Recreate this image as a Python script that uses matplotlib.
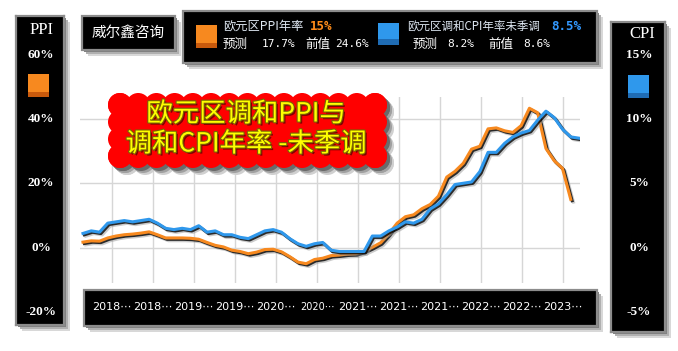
import matplotlib
matplotlib.use('Agg')
import matplotlib.pyplot as plt
import matplotlib.patheffects as pe
from matplotlib.patches import Rectangle, Circle
import numpy as np

plt.rcParams['font.family'] = ['Noto Sans CJK SC', 'DejaVu Sans']

# monthly, 2018-02 .. 2023-01 (PPI) and 2018-02 .. 2023-02 (CPI)
ppi = [1.7, 2.1, 2.0, 3.0, 3.6, 4.0, 4.2, 4.5, 4.9, 4.0, 3.0,
       3.0, 3.0, 2.9, 2.6, 1.6, 0.7, 0.2, -0.8, -1.2, -1.9, -1.4, -0.6,
       -0.5, -1.3, -2.8, -4.5, -5.0, -3.7, -3.3, -2.5, -2.3, -2.0, -1.9, -1.1,
       0.1, 1.5, 4.3, 7.6, 9.6, 10.2, 12.1, 13.4, 16.0, 21.9, 23.7, 26.2,
       30.6, 31.5, 36.9, 37.2, 36.3, 35.8, 37.9, 43.3, 41.9, 30.8, 27.0, 24.6,
       15.0]
cpi = [1.1, 1.3, 1.2, 1.9, 2.0, 2.1, 2.0, 2.1, 2.2, 1.9, 1.5,
       1.4, 1.5, 1.4, 1.7, 1.2, 1.3, 1.0, 1.0, 0.8, 0.7, 1.0, 1.3,
       1.4, 1.2, 0.7, 0.3, 0.1, 0.3, 0.4, -0.2, -0.3, -0.3, -0.3, -0.3,
       0.9, 0.9, 1.3, 1.6, 2.0, 1.9, 2.2, 3.0, 3.4, 4.1, 4.9, 5.0,
       5.1, 5.9, 7.4, 7.4, 8.1, 8.6, 8.9, 9.1, 9.9, 10.6, 10.1, 9.2,
       8.6, 8.5]
x_labels = ['2018⋯', '2018⋯', '2019⋯', '2019⋯', '2020⋯', '2020⋯',
            '2021⋯', '2021⋯', '2021⋯', '2022⋯', '2022⋯', '2023⋯']
ppi_ticks = [60, 40, 20, 0, -20]
cpi_ticks = [15, 10, 5, 0, -5]
title_lines = ['欧元区调和PPI与', '调和CPI年率 -未季调']
ppi_name, ppi_now, ppi_fc, ppi_prev = '欧元区PPI年率', '15%', '17.7%', '24.6%'
cpi_name, cpi_now, cpi_fc, cpi_prev = '欧元区调和CPI年率未季调', '8.5%', '8.2%', '8.6%'

ORANGE, ORANGE_D = '#f7891f', '#c95a0c'
BLUE, BLUE_D = '#2f98ec', '#1f6cb4'

W, H = 678, 351
fig = plt.figure(figsize=(W / 100, H / 100), dpi=100)
fig.patch.set_facecolor('white')


def px_axes(left, top, w, h, **kw):
    return fig.add_axes([left / W, 1 - (top + h) / H, w / W, h / H], **kw)


def black_box(a, x0, y0, x1, y1):
    # soft drop shadow then black panel with grey bevel edge
    for off, c in [(6, '#d8d8d8'), (4, '#b0b0b0'), (2, '#808080')]:
        a.add_patch(Rectangle((x0 + off, y0 + off), x1 - x0, y1 - y0, color=c, lw=0))
    a.add_patch(Rectangle((x0, y0), x1 - x0, y1 - y0, facecolor='black',
                          edgecolor='#8c8c8c', lw=1.6))


def swatch(a, x, y, w, h, c, dark, split):
    a.add_patch(Rectangle((x, y), w, h, color=c, lw=0))
    a.add_patch(Rectangle((x, y + split), w, h - split, color=dark, lw=0))


# background layer (pixel coords)
bg = fig.add_axes([0, 0, 1, 1], zorder=0)
bg.set_xlim(0, W)
bg.set_ylim(H, 0)
bg.axis('off')
black_box(bg, 84, 290, 597, 326)

# main plot: PPI on left scale, CPI = PPI/4 on right scale
y_lo, y_hi = -11.0, 46.8
top_px, bot_px = 97, 283
k = (y_hi - y_lo) / (bot_px - top_px)

ax = px_axes(80, top_px, 500, bot_px - top_px, zorder=1)
ax.patch.set_alpha(0)
ax.set_xlim(-0.36, 60.12)
ax.set_ylim(y_lo, y_hi)
ax.set_yticks([0, 20, 40])
ax.set_xticks(np.linspace(3.5, 58.1, len(x_labels)))
ax.set_xticklabels(x_labels, color='white', fontsize=8, family=['DejaVu Sans'])
ax.get_xticklabels()[5].set_fontsize(7)
ax.tick_params(axis='x', length=0, pad=14)
ax.tick_params(axis='y', length=0, labelleft=False)
ax.grid(color='#d6d6d6', lw=1)
for s in ax.spines.values():
    s.set_visible(False)

shadow = [pe.SimpleLineShadow(offset=(2, -2), shadow_color='#999999', alpha=0.5),
          pe.SimpleLineShadow(offset=(1, -1), shadow_color='black', alpha=0.8),
          pe.Normal()]
ax.plot(np.arange(len(ppi)), ppi, color=ORANGE, lw=2.2, path_effects=shadow, solid_joinstyle='round')

ax2 = ax.twinx()
ax2.set_ylim(y_lo / 4, y_hi / 4)
ax2.plot(np.arange(len(cpi)), cpi, color=BLUE, lw=2.2, path_effects=shadow, solid_joinstyle='round')
ax2.set_yticks([])
for s in ax2.spines.values():
    s.set_visible(False)

# side scale panels
for left, top, w, h, ticks, div, name, col, dark in [
        (16, 16, 48, 309, ppi_ticks, 1, 'PPI', ORANGE, ORANGE_D),
        (611, 22, 54, 310, cpi_ticks, 4, 'CPI', BLUE, BLUE_D)]:
    pa = px_axes(left, top, w, h, zorder=2)
    pa.set_ylim((y_lo - (top + h - bot_px) * k) / div, (y_hi + (top_px - top) * k) / div)
    pa.set_xlim(0, 1)
    pa.set_facecolor('black')
    pa.set_xticks([])
    pa.set_yticks([])
    for s in pa.spines.values():
        s.set_color('#8c8c8c')
        s.set_linewidth(1.6)
    for v in ticks:
        pa.text(0.52, v, f'{v}%', transform=pa.get_yaxis_transform(), ha='center', va='center',
                color='white', fontsize=9.5, fontweight='bold', family=['Liberation Serif'])
    for off, c in [(6, '#d8d8d8'), (4, '#b0b0b0'), (2, '#808080')]:
        bg.add_patch(Rectangle((left + off, top + off), w, h, color=c, lw=0))

# overlay layer (pixel coords)
ov = fig.add_axes([0, 0, 1, 1], zorder=5)
ov.set_xlim(0, W)
ov.set_ylim(H, 0)
ov.axis('off')
ov.patch.set_alpha(0)

ov.text(42, 30, 'PPI', color='white', fontsize=12, ha='center', va='center', family=['Liberation Serif'])
ov.text(642, 34, 'CPI', color='white', fontsize=12, ha='center', va='center', family=['Liberation Serif'])
swatch(ov, 28, 74, 21, 23, ORANGE, ORANGE_D, 18)
swatch(ov, 628, 75, 21, 23, BLUE, BLUE_D, 18)

# brand box
black_box(ov, 82, 16, 175, 50)
ov.text(128, 33, '威尔鑫咨询', color='white', fontsize=10.5, ha='center', va='center')

# legend box
black_box(ov, 183, 11, 597, 63)
swatch(ov, 196, 25, 21, 23, ORANGE, ORANGE_D, 18)
swatch(ov, 378, 23, 21, 22, BLUE, BLUE_D, 16)
mono = ['DejaVu Sans Mono']
ov.text(223, 26, ppi_name, color='#dfe8f3', fontsize=8.8, va='center')
ov.text(310, 26, ppi_now, color='#ff8c1a', fontsize=9, va='center', fontweight='bold', family=mono)
ov.text(223, 44, '预测', color='white', fontsize=9, va='center')
ov.text(262, 44, ppi_fc, color='white', fontsize=8, va='center', family=mono)
ov.text(305, 44, '前值', color='white', fontsize=9, va='center')
ov.text(335, 44, ppi_prev, color='white', fontsize=8, va='center', family=mono)
ov.text(407, 26, cpi_name, color='#dfe8f3', fontsize=8.3, va='center')
ov.text(551, 26, cpi_now, color='#3399ff', fontsize=9, va='center', fontweight='bold', family=mono)
ov.text(413, 44, '预测', color='white', fontsize=9, va='center')
ov.text(447, 44, cpi_fc, color='white', fontsize=8, va='center', family=mono)
ov.text(488, 44, '前值', color='white', fontsize=9, va='center')
ov.text(523, 44, cpi_prev, color='white', fontsize=8, va='center', family=mono)

# red cloud title
cx0, cy0, cx1, cy1, r = 120, 105, 375, 156, 12
edge = [(x, cy0) for x in np.linspace(cx0, cx1, 15)] + [(x, cy1) for x in np.linspace(cx0, cx1, 15)]
edge += [(cx0, y) for y in np.linspace(cy0, cy1, 4)] + [(cx1, y) for y in np.linspace(cy0, cy1, 4)]
for off, c in [(7, '#d0d0d0'), (5, '#a0a0a0'), (3, '#6a6a6a'), (0, '#ff0000')]:
    ov.add_patch(Rectangle((cx0 + off, cy0 + off), cx1 - cx0, cy1 - cy0, color=c, lw=0))
    for (ex, ey) in edge:
        ov.add_patch(Circle((ex + off, ey + off), r, color=c, lw=0))
txt_fx = [pe.withSimplePatchShadow(offset=(1.5, -1.5), shadow_rgbFace='#600000', alpha=0.8),
          pe.Stroke(linewidth=1.6, foreground='#7a6400'), pe.Normal()]
for i, line in enumerate(title_lines):
    ov.text(246, 114 + 30 * i, line, color='#ffff00', fontsize=19, ha='center', va='center',
            path_effects=txt_fx)

fig.savefig('out.png', dpi=100)
